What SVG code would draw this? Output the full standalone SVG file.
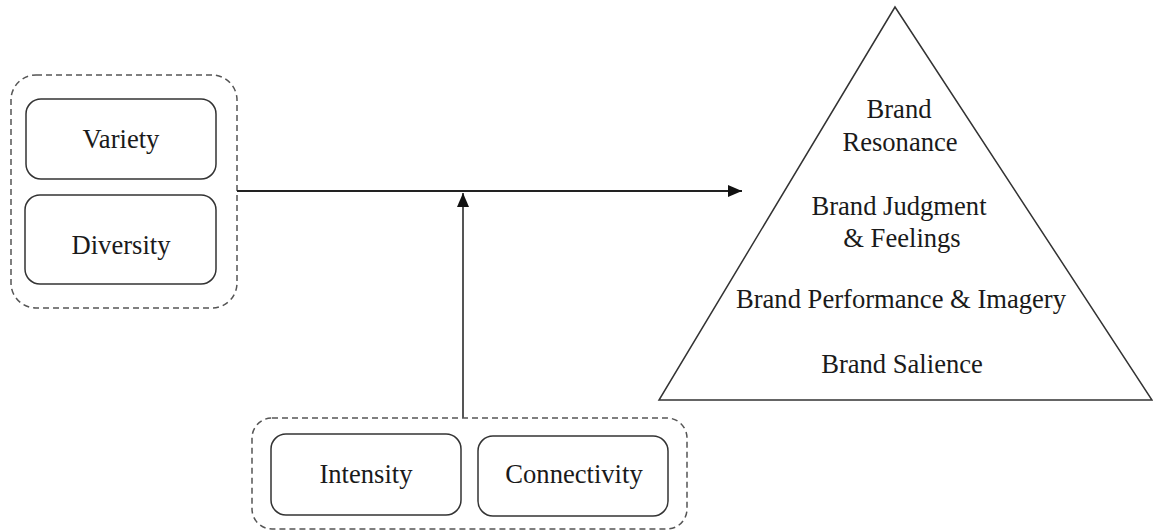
<svg xmlns="http://www.w3.org/2000/svg" width="1153" height="531" viewBox="0 0 1153 531">
<style>
text{font-family:"Liberation Serif","Times New Roman",serif;font-size:26.6px;fill:#1a1a1a;text-anchor:middle}
.box{fill:#fff;stroke:#333;stroke-width:1.5}
.grp{fill:none;stroke:#555;stroke-width:1.5;stroke-dasharray:6 4}
.conn{stroke:#222;stroke-width:2;fill:none}
.tri{fill:#fff;stroke:#333;stroke-width:1.5}
</style>
<defs>
<marker id="ah" markerUnits="userSpaceOnUse" markerWidth="16" markerHeight="14" refX="14" refY="6" orient="auto">
<path d="M0,0 L14,6 L0,12 Z" fill="#111"/>
</marker>
</defs>
<rect width="1153" height="531" fill="#fff"/>
<g id="group-left">
<rect class="grp" x="11" y="75" width="226" height="233" rx="25"/>
</g>
<g id="node-variety">
<rect class="box" x="26" y="99" width="190" height="80" rx="15"/>
<text x="121" y="148">Variety</text>
</g>
<g id="node-diversity">
<rect class="box" x="25" y="195" width="191" height="89" rx="15"/>
<text x="121" y="254">Diversity</text>
</g>
<g id="group-bottom">
<rect class="grp" x="252" y="418" width="435" height="111" rx="20"/>
</g>
<g id="node-intensity">
<rect class="box" x="271" y="434" width="190" height="81" rx="15"/>
<text x="366" y="483">Intensity</text>
</g>
<g id="node-connectivity">
<rect class="box" x="478" y="436" width="190" height="80" rx="15"/>
<text x="574" y="483">Connectivity</text>
</g>
<g id="node-pyramid">
<polygon class="tri" points="895,7 659,400 1152,400"/>
<text x="899" y="118">Brand</text>
<text x="900" y="151">Resonance</text>
<text x="899" y="215">Brand Judgment</text>
<text x="902" y="247">&amp; Feelings</text>
<text x="901" y="308">Brand Performance &amp; Imagery</text>
<text x="902" y="373">Brand Salience</text>
</g>
<g id="connectors">
<line class="conn" x1="237" y1="191" x2="742" y2="191" marker-end="url(#ah)"/>
<line class="conn" x1="463" y1="418" x2="463" y2="193" marker-end="url(#ah)" style="stroke:#555"/>
</g>
</svg>
